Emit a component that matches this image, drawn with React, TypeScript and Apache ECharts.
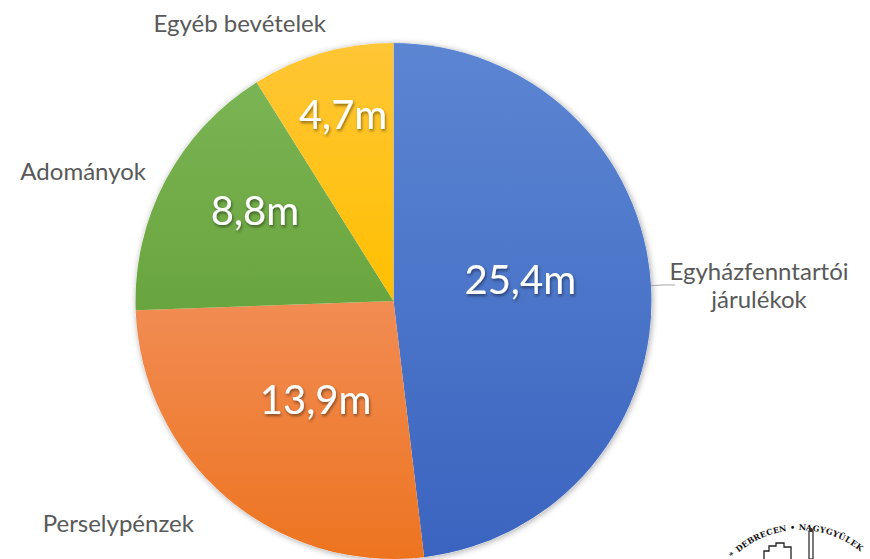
import React, { useEffect, useRef } from "react";
import * as echarts from "echarts";

// ---- data ----
const categories = ["Egyházfenntartói\njárulékok", "Perselypénzek", "Adományok", "Egyéb bevételek"];
const values = [25.4, 13.9, 8.8, 4.7];
const valueSuffix = "m";

// ---- styling ----
const colorTop = ["#5C86D2", "#F18C53", "#7BB454", "#FFC636"];
const colorBottom = ["#3A64BF", "#ED7420", "#69A53E", "#FFBF00"];
const CX = 393.5;
const CY = 301;
const R = 258;
// label nudges (px) relative to ECharts' default placement
const valueShift = [[-5, -14], [8, -2], [-22, -29], [-14, -60]];
const nameShift = [[79, 0], [-7, 16], [8, -4], [24, -19]];
const nameLine = [true, false, false, false];

const logoText = "* DEBRECEN • NAGYGYÜLEKEZET";

export default function App() {
  const ref = useRef<HTMLDivElement>(null);

  useEffect(() => {
    document.body.style.margin = "0";
    const chart = echarts.init(ref.current!, undefined, { renderer: "svg" });

    const sliceData = values.map((v, i) => ({
      name: categories[i],
      value: v,
      itemStyle: {
        color: new echarts.graphic.LinearGradient(0, 0, 0, 1, [
          { offset: 0, color: colorTop[i] },
          { offset: 1, color: colorBottom[i] },
        ]),
      },
      labelLine: { show: nameLine[i] },
    }));

    // logo: letters along an arc
    const logoEls: any[] = [];
    const lcx = 800, lcy = 625, lr = 94;
    let theta = -44;
    for (const ch of logoText) {
      if (ch === " ") { theta += 1.8; continue; }
      const rad = (theta * Math.PI) / 180;
      const x = lcx + lr * Math.sin(rad);
      const y = lcy - lr * Math.cos(rad);
      if (x > 858) break;
      logoEls.push({
        type: "text",
        x,
        y,
        rotation: -rad,
        style: {
          text: ch,
          fontFamily: "DejaVu Serif",
          fontWeight: "bold",
          fontSize: 8,
          fill: "#111",
          align: "center",
          verticalAlign: "bottom",
        },
        silent: true,
      });
      theta += 4.0;
    }
    logoEls.push({
      type: "polyline",
      shape: { points: [[764, 559], [764, 551], [769, 551], [769, 546], [776, 546], [776, 543], [784, 543], [784, 547], [791, 547], [791, 559]] },
      style: { stroke: "#222", fill: "none", lineWidth: 1.3 },
      silent: true,
    });
    logoEls.push({
      type: "rect",
      shape: { x: 809, y: 531, width: 4, height: 28 },
      style: { stroke: "#222", fill: "none", lineWidth: 1.2 },
      silent: true,
    });
    logoEls.push({
      type: "circle",
      shape: { cx: 811, cy: 530, r: 2 },
      style: { fill: "#333" },
      silent: true,
    });

    chart.setOption({
      animation: false,
      backgroundColor: "#ffffff",
      graphic: logoEls,
      series: [
        {
          type: "pie",
          silent: true,
          center: [CX, CY],
          radius: R,
          startAngle: 90,
          clockwise: true,
          label: { show: false },
          labelLine: { show: false },
          itemStyle: { color: "#ffffff", shadowBlur: 6, shadowColor: "rgba(0,0,0,0.35)", shadowOffsetX: 1, shadowOffsetY: 1 },
          data: [{ value: 1 }],
          z: 1,
        },
        {
          type: "pie",
          silent: true,
          center: [CX, CY],
          radius: R,
          startAngle: 90,
          clockwise: true,
          avoidLabelOverlap: false,
          data: sliceData,
          label: {
            show: true,
            position: "outside",
            formatter: "{b}",
            fontFamily: "Lato",
            fontSize: 24,
            color: "#595959",
            lineHeight: 28,
          },
          labelLine: {
            show: true,
            length: 12,
            length2: 12,
            smooth: false,
            lineStyle: { color: "#a6a6a6", width: 1 },
          },
          labelLayout: (p: any) => ({
            dx: nameShift[p.dataIndex][0],
            dy: nameShift[p.dataIndex][1],
            align: p.dataIndex === 0 ? "center" : undefined,
          }),
          z: 2,
        },
        {
          type: "pie",
          silent: true,
          center: [CX, CY],
          radius: R,
          startAngle: 90,
          clockwise: true,
          data: values.map((v, i) => ({ name: categories[i], value: v })),
          itemStyle: { color: "rgba(0,0,0,0)" },
          label: {
            show: true,
            position: "inside",
            formatter: (p: any) => String(p.value).replace(".", ",") + valueSuffix,
            fontFamily: "Lato",
            fontSize: 40,
            color: "#ffffff",
            textShadowColor: "rgba(0,0,0,0.45)",
            textShadowBlur: 3,
            textShadowOffsetX: 1,
            textShadowOffsetY: 2,
          },
          labelLine: { show: false },
          labelLayout: (p: any) => ({
            dx: valueShift[p.dataIndex][0],
            dy: valueShift[p.dataIndex][1],
          }),
          z: 3,
        },
      ],
    });

    return () => chart.dispose();
  }, []);

  return <div ref={ref} style={{ width: 870, height: 559 }} />;
}
